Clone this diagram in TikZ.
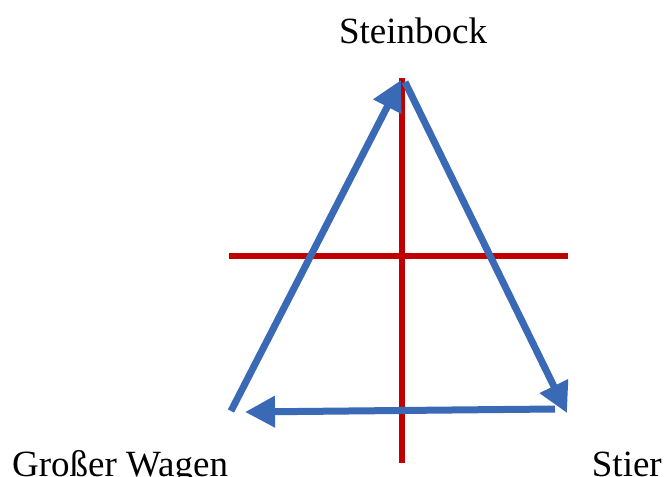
\documentclass[tikz,border=0pt]{standalone}
\usepackage{fontspec}
\setmainfont{Liberation Serif}
\usetikzlibrary{arrows.meta}
\definecolor{pfeilblau}{RGB}{58,106,182}
\definecolor{achsrot}{RGB}{192,0,0}
\begin{document}
\begin{tikzpicture}[x=1pt,y=-1pt,font=\fontsize{37}{44}\selectfont,
  pfeil/.style={draw=pfeilblau,line width=7pt,-{Triangle[length=30pt,width=30pt]}},
  achse/.style={draw=achsrot,line width=6pt},
  sternbild/.style={inner sep=0pt}]
\useasboundingbox (0,0) rectangle (665,477);
% Achsenkreuz
\coordinate (oben) at (402,78);\coordinate (unten) at (402,463);
\coordinate (links) at (229,256);\coordinate (rechts) at (568,256);
\draw[achse] (oben) -- (unten);
\draw[achse] (links) -- (rechts);
% Sternbilder
\node[sternbild,anchor=base] (steinbock) at (413,43) {Steinbock};
\node[sternbild,anchor=base west] (wagen) at (12,476) {Großer Wagen};
\node[sternbild,anchor=base east] (stier) at (662,476) {Stier};
% Pfeile
\coordinate (a1) at (231,411);\coordinate (b1) at (401,80);
\coordinate (a2) at (405,82);\coordinate (b2) at (567,413);
\coordinate (a3) at (555,409);\coordinate (b3) at (245,412);
\draw[pfeil] (a1) -- (b1);
\draw[pfeil] (a2) -- (b2);
\draw[pfeil] (a3) -- (b3);
\end{tikzpicture}
\end{document}
